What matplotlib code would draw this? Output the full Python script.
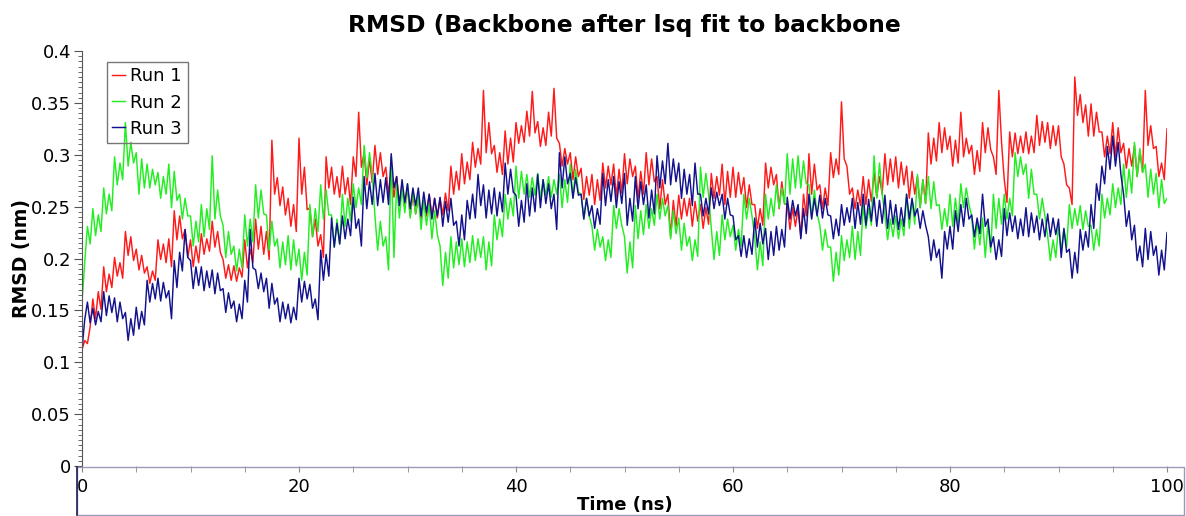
"""
RMSD of backbone after lsq fit, three runs (xmgrace style plot)
"""
import matplotlib
matplotlib.use("Agg")
import matplotlib.pyplot as plt
import numpy as np
from matplotlib.patches import Rectangle
from matplotlib.lines import Line2D
from matplotlib.ticker import MultipleLocator

# time in ns, one sample every 0.25 ns
time_ns = np.linspace(0, 100, 401)

# values (nm), 4 per ns
run1 = [
    0.112, 0.121, 0.118, 0.134, 0.161, 0.142, 0.168, 0.151, 0.192, 0.168, 0.185, 0.172, 0.201, 0.183, 0.196, 0.181, 0.226, 0.203, 0.221, 0.198,
    0.209, 0.189, 0.203, 0.186, 0.192, 0.176, 0.188, 0.179, 0.218, 0.199, 0.214, 0.196, 0.219, 0.192, 0.246, 0.218, 0.241, 0.219, 0.228, 0.201,
    0.218, 0.192, 0.212, 0.196, 0.224, 0.204, 0.219, 0.207, 0.236, 0.211, 0.226, 0.206, 0.199, 0.181, 0.194, 0.179, 0.193, 0.178, 0.191, 0.182,
    0.218, 0.191, 0.209, 0.196, 0.238, 0.209, 0.231, 0.204, 0.226, 0.199, 0.314, 0.262, 0.278, 0.251, 0.269, 0.242, 0.258, 0.231, 0.252, 0.226,
    0.316, 0.262, 0.288, 0.247, 0.249, 0.221, 0.238, 0.212, 0.223, 0.201, 0.298, 0.268, 0.288, 0.262, 0.279, 0.259, 0.289, 0.262, 0.278, 0.252,
    0.298, 0.279, 0.341, 0.288, 0.302, 0.271, 0.296, 0.273, 0.309, 0.281, 0.302, 0.279, 0.288, 0.262, 0.284, 0.259, 0.279, 0.251, 0.272, 0.249,
    0.268, 0.241, 0.262, 0.243, 0.259, 0.238, 0.256, 0.241, 0.262, 0.241, 0.258, 0.239, 0.258, 0.242, 0.263, 0.246, 0.289, 0.262, 0.284, 0.266,
    0.301, 0.272, 0.293, 0.276, 0.312, 0.288, 0.306, 0.291, 0.362, 0.302, 0.331, 0.301, 0.309, 0.283, 0.302, 0.281, 0.323, 0.291, 0.316, 0.293,
    0.331, 0.311, 0.328, 0.312, 0.342, 0.318, 0.361, 0.321, 0.332, 0.308, 0.326, 0.309, 0.341, 0.318, 0.364, 0.316, 0.311, 0.289, 0.306, 0.291,
    0.302, 0.276, 0.298, 0.279, 0.287, 0.257, 0.279, 0.261, 0.281, 0.252, 0.276, 0.256, 0.292, 0.268, 0.289, 0.271, 0.291, 0.259, 0.286, 0.263,
    0.301, 0.272, 0.296, 0.279, 0.289, 0.258, 0.284, 0.262, 0.302, 0.271, 0.296, 0.274, 0.279, 0.248, 0.276, 0.252, 0.262, 0.221, 0.256, 0.231,
    0.261, 0.238, 0.258, 0.241, 0.258, 0.231, 0.255, 0.236, 0.252, 0.229, 0.249, 0.233, 0.282, 0.258, 0.279, 0.261, 0.291, 0.252, 0.284, 0.259,
    0.288, 0.259, 0.283, 0.262, 0.278, 0.249, 0.271, 0.252, 0.252, 0.229, 0.248, 0.232, 0.292, 0.268, 0.288, 0.271, 0.281, 0.248, 0.274, 0.253,
    0.252, 0.228, 0.249, 0.231, 0.248, 0.221, 0.262, 0.241, 0.301, 0.262, 0.291, 0.266, 0.271, 0.248, 0.268, 0.251, 0.302, 0.278, 0.296, 0.281,
    0.351, 0.296, 0.289, 0.262, 0.268, 0.248, 0.266, 0.251, 0.279, 0.252, 0.276, 0.255, 0.283, 0.259, 0.279, 0.262, 0.301, 0.271, 0.296, 0.274,
    0.298, 0.268, 0.293, 0.271, 0.289, 0.258, 0.284, 0.262, 0.279, 0.249, 0.276, 0.253, 0.321, 0.291, 0.316, 0.294, 0.331, 0.302, 0.326, 0.305,
    0.318, 0.289, 0.314, 0.292, 0.341, 0.298, 0.316, 0.301, 0.309, 0.281, 0.304, 0.284, 0.331, 0.302, 0.326, 0.305, 0.298, 0.281, 0.362, 0.312,
    0.276, 0.254, 0.322, 0.298, 0.321, 0.301, 0.318, 0.302, 0.322, 0.301, 0.318, 0.302, 0.338, 0.309, 0.332, 0.312, 0.331, 0.306, 0.328, 0.309,
    0.328, 0.298, 0.291, 0.271, 0.268, 0.252, 0.375, 0.338, 0.358, 0.331, 0.348, 0.318, 0.349, 0.318, 0.341, 0.322, 0.322, 0.298, 0.318, 0.301,
    0.331, 0.298, 0.326, 0.302, 0.311, 0.287, 0.306, 0.289, 0.309, 0.279, 0.304, 0.283, 0.362, 0.309, 0.328, 0.306, 0.308, 0.279, 0.292, 0.276,
    0.325]

run2 = [
    0.158, 0.196, 0.231, 0.214, 0.248, 0.222, 0.242, 0.226, 0.268, 0.243, 0.262, 0.246, 0.298, 0.271, 0.292, 0.276, 0.331, 0.289, 0.312, 0.292,
    0.302, 0.262, 0.296, 0.268, 0.291, 0.268, 0.286, 0.271, 0.283, 0.258, 0.279, 0.262, 0.291, 0.249, 0.284, 0.256, 0.262, 0.238, 0.258, 0.241,
    0.241, 0.212, 0.236, 0.216, 0.252, 0.221, 0.248, 0.228, 0.299, 0.238, 0.266, 0.241, 0.232, 0.201, 0.226, 0.204, 0.212, 0.188, 0.209, 0.191,
    0.242, 0.212, 0.238, 0.216, 0.271, 0.239, 0.266, 0.243, 0.242, 0.208, 0.236, 0.212, 0.219, 0.191, 0.216, 0.194, 0.222, 0.189, 0.218, 0.193,
    0.209, 0.179, 0.206, 0.184, 0.252, 0.221, 0.248, 0.226, 0.271, 0.238, 0.266, 0.242, 0.242, 0.211, 0.238, 0.214, 0.262, 0.231, 0.258, 0.236,
    0.272, 0.249, 0.268, 0.252, 0.309, 0.278, 0.302, 0.281, 0.241, 0.208, 0.236, 0.212, 0.221, 0.189, 0.298, 0.201, 0.272, 0.239, 0.268, 0.244,
    0.272, 0.239, 0.266, 0.243, 0.261, 0.228, 0.256, 0.232, 0.252, 0.219, 0.246, 0.223, 0.212, 0.174, 0.206, 0.181, 0.221, 0.191, 0.216, 0.194,
    0.219, 0.192, 0.216, 0.196, 0.222, 0.198, 0.219, 0.201, 0.221, 0.189, 0.216, 0.193, 0.242, 0.218, 0.238, 0.221, 0.262, 0.238, 0.258, 0.241,
    0.289, 0.258, 0.284, 0.262, 0.281, 0.259, 0.278, 0.261, 0.282, 0.258, 0.276, 0.261, 0.279, 0.259, 0.276, 0.262, 0.281, 0.249, 0.276, 0.254,
    0.291, 0.259, 0.286, 0.264, 0.262, 0.238, 0.258, 0.241, 0.231, 0.208, 0.228, 0.211, 0.221, 0.198, 0.218, 0.201, 0.251, 0.229, 0.248, 0.232,
    0.221, 0.186, 0.216, 0.191, 0.251, 0.219, 0.246, 0.223, 0.252, 0.229, 0.248, 0.232, 0.262, 0.238, 0.258, 0.241, 0.251, 0.219, 0.246, 0.224,
    0.239, 0.208, 0.234, 0.212, 0.221, 0.198, 0.218, 0.202, 0.288, 0.259, 0.282, 0.262, 0.229, 0.199, 0.226, 0.203, 0.242, 0.218, 0.238, 0.221,
    0.232, 0.208, 0.228, 0.212, 0.262, 0.238, 0.258, 0.241, 0.221, 0.189, 0.216, 0.193, 0.262, 0.238, 0.258, 0.241, 0.271, 0.249, 0.268, 0.252,
    0.301, 0.262, 0.296, 0.268, 0.299, 0.268, 0.294, 0.272, 0.271, 0.239, 0.266, 0.243, 0.232, 0.208, 0.228, 0.211, 0.211, 0.178, 0.206, 0.184,
    0.222, 0.198, 0.218, 0.201, 0.231, 0.199, 0.226, 0.203, 0.252, 0.229, 0.248, 0.232, 0.299, 0.258, 0.292, 0.262, 0.242, 0.218, 0.238, 0.221,
    0.241, 0.219, 0.238, 0.222, 0.262, 0.229, 0.256, 0.233, 0.281, 0.249, 0.276, 0.253, 0.279, 0.248, 0.274, 0.251, 0.252, 0.228, 0.248, 0.231,
    0.262, 0.231, 0.258, 0.234, 0.272, 0.249, 0.268, 0.252, 0.241, 0.209, 0.236, 0.213, 0.239, 0.201, 0.234, 0.206, 0.262, 0.229, 0.258, 0.233,
    0.262, 0.238, 0.258, 0.241, 0.302, 0.279, 0.298, 0.281, 0.291, 0.258, 0.286, 0.262, 0.262, 0.238, 0.258, 0.241, 0.222, 0.198, 0.218, 0.201,
    0.231, 0.208, 0.228, 0.211, 0.252, 0.229, 0.248, 0.232, 0.251, 0.228, 0.246, 0.231, 0.232, 0.208, 0.228, 0.212, 0.262, 0.239, 0.258, 0.242,
    0.272, 0.249, 0.268, 0.252, 0.291, 0.259, 0.286, 0.263, 0.312, 0.279, 0.306, 0.283, 0.291, 0.259, 0.286, 0.262, 0.282, 0.249, 0.276, 0.253,
    0.258]

run3 = [
    0.112, 0.141, 0.158, 0.138, 0.152, 0.136, 0.149, 0.139, 0.168, 0.145, 0.164, 0.148, 0.162, 0.139, 0.158, 0.142, 0.148, 0.121, 0.142, 0.126,
    0.153, 0.132, 0.149, 0.136, 0.179, 0.158, 0.176, 0.161, 0.181, 0.159, 0.177, 0.162, 0.169, 0.142, 0.198, 0.172, 0.206, 0.188, 0.228, 0.201,
    0.198, 0.171, 0.192, 0.174, 0.192, 0.169, 0.188, 0.172, 0.189, 0.166, 0.186, 0.169, 0.171, 0.148, 0.167, 0.152, 0.159, 0.139, 0.156, 0.142,
    0.179, 0.158, 0.228, 0.191, 0.189, 0.171, 0.186, 0.168, 0.181, 0.152, 0.176, 0.156, 0.162, 0.139, 0.158, 0.142, 0.156, 0.138, 0.153, 0.141,
    0.181, 0.158, 0.178, 0.161, 0.175, 0.152, 0.161, 0.141, 0.208, 0.179, 0.204, 0.183, 0.239, 0.211, 0.234, 0.214, 0.241, 0.219, 0.238, 0.222,
    0.259, 0.229, 0.238, 0.212, 0.279, 0.248, 0.274, 0.252, 0.282, 0.251, 0.276, 0.254, 0.278, 0.252, 0.301, 0.268, 0.279, 0.251, 0.276, 0.254,
    0.272, 0.248, 0.268, 0.251, 0.268, 0.241, 0.264, 0.244, 0.262, 0.238, 0.258, 0.241, 0.259, 0.231, 0.255, 0.235, 0.258, 0.232, 0.236, 0.212,
    0.242, 0.218, 0.256, 0.238, 0.262, 0.239, 0.281, 0.251, 0.271, 0.239, 0.266, 0.243, 0.268, 0.241, 0.264, 0.245, 0.292, 0.262, 0.286, 0.264,
    0.261, 0.231, 0.256, 0.235, 0.272, 0.241, 0.268, 0.245, 0.281, 0.249, 0.276, 0.253, 0.272, 0.248, 0.262, 0.228, 0.302, 0.268, 0.298, 0.272,
    0.282, 0.258, 0.278, 0.261, 0.262, 0.238, 0.258, 0.241, 0.251, 0.229, 0.248, 0.233, 0.282, 0.251, 0.276, 0.255, 0.279, 0.249, 0.274, 0.253,
    0.282, 0.232, 0.258, 0.236, 0.279, 0.248, 0.274, 0.252, 0.271, 0.239, 0.266, 0.243, 0.299, 0.268, 0.294, 0.272, 0.311, 0.271, 0.296, 0.274,
    0.292, 0.258, 0.286, 0.262, 0.281, 0.251, 0.292, 0.262, 0.262, 0.241, 0.258, 0.243, 0.268, 0.248, 0.264, 0.251, 0.262, 0.238, 0.258, 0.242,
    0.241, 0.218, 0.222, 0.202, 0.222, 0.201, 0.219, 0.204, 0.239, 0.211, 0.234, 0.214, 0.229, 0.199, 0.226, 0.203, 0.231, 0.208, 0.228, 0.211,
    0.259, 0.238, 0.256, 0.241, 0.252, 0.219, 0.248, 0.224, 0.262, 0.238, 0.258, 0.241, 0.261, 0.239, 0.258, 0.242, 0.241, 0.219, 0.238, 0.222,
    0.252, 0.232, 0.249, 0.235, 0.258, 0.229, 0.254, 0.233, 0.262, 0.232, 0.257, 0.236, 0.259, 0.231, 0.256, 0.234, 0.261, 0.229, 0.256, 0.233,
    0.252, 0.228, 0.249, 0.231, 0.262, 0.238, 0.258, 0.241, 0.248, 0.229, 0.246, 0.232, 0.221, 0.198, 0.218, 0.201, 0.209, 0.181, 0.226, 0.209,
    0.231, 0.209, 0.246, 0.226, 0.252, 0.231, 0.258, 0.238, 0.242, 0.221, 0.239, 0.224, 0.262, 0.231, 0.238, 0.211, 0.221, 0.199, 0.218, 0.202,
    0.248, 0.222, 0.244, 0.226, 0.241, 0.219, 0.238, 0.222, 0.249, 0.221, 0.244, 0.225, 0.241, 0.218, 0.238, 0.221, 0.243, 0.221, 0.239, 0.223,
    0.238, 0.201, 0.229, 0.206, 0.209, 0.181, 0.206, 0.186, 0.228, 0.208, 0.226, 0.211, 0.252, 0.229, 0.272, 0.256, 0.289, 0.272, 0.308, 0.286,
    0.318, 0.289, 0.312, 0.281, 0.262, 0.231, 0.246, 0.218, 0.232, 0.198, 0.212, 0.192, 0.229, 0.199, 0.226, 0.203, 0.212, 0.184, 0.208, 0.189,
    0.225]

labels = ['Run 1', 'Run 2', 'Run 3']
colors = ['#ff1a1a', '#22ee22', '#12128c']

W, H = 1186, 516
fig = plt.figure(figsize=(W / 100, H / 100), dpi=100)
ax = fig.add_axes([82 / W, 50 / H, 1085 / W, 415 / H])

for y, c, lab in zip([run1, run2, run3], colors, labels):
    ax.plot(time_ns, y, '-', color=c, lw=1.05, label=lab)

ax.set_xlim(0, 100)
ax.set_ylim(0, 0.4)

# axes look
for s in ['top', 'right', 'bottom']:
    ax.spines[s].set_visible(False)
ax.spines['left'].set_color('#555555')

ax.xaxis.set_major_locator(MultipleLocator(20))
ax.xaxis.set_minor_locator(MultipleLocator(5))
ax.yaxis.set_minor_locator(MultipleLocator(0.005))
ax.set_yticks(np.arange(0, 0.401, 0.05))
ax.set_yticklabels(['0', '0.05', '0.1', '0.15', '0.2', '0.25', '0.3', '0.35', '0.4'])

ax.tick_params(axis='y', which='major', direction='out', length=6, color='#555555',
               labelsize=13, pad=2)
ax.tick_params(axis='y', which='minor', direction='out', length=3, color='#555555')
ax.tick_params(axis='x', which='both', direction='out', length=4, color='#888888',
               labelsize=13, pad=5)

ax.set_title('RMSD (Backbone after lsq fit to backbone', fontsize=16.8,
             fontweight='bold', pad=14)
ax.set_ylabel('RMSD (nm)', fontsize=13.5, fontweight='bold', labelpad=0)
ax.set_xlabel('Time (ns)', fontsize=13, fontweight='bold', labelpad=0)

# box under the plot (x axis frame)
box = Rectangle((77 / W, 1 / H), 1107 / W, 48 / H, transform=fig.transFigure,
                fill=False, edgecolor='#9a9ab8', lw=1.0, clip_on=False)
fig.add_artist(box)
fig.add_artist(Line2D([77 / W, 77 / W], [1 / H, 49 / H], transform=fig.transFigure,
                      color='#20205a', lw=1.2))

leg = ax.legend(loc='upper left', bbox_to_anchor=(107 / W, 1 - 62 / H),
                bbox_transform=fig.transFigure, fontsize=13, frameon=True,
                fancybox=False, framealpha=1, edgecolor='#777777',
                handlelength=0.7, handletextpad=0.3, borderpad=0.3,
                labelspacing=0.45, borderaxespad=0)
leg.get_frame().set_facecolor('none')
leg.get_frame().set_linewidth(1.0)

fig.savefig('out.png', dpi=100)
